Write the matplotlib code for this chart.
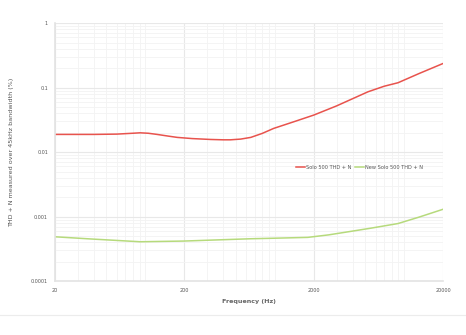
import numpy as np
import matplotlib.pyplot as plt
from matplotlib.lines import Line2D
from matplotlib.ticker import FixedLocator, LogLocator, NullFormatter

# values
freq_red = [20, 40, 60, 80, 91, 105, 123, 150, 176, 230, 318, 400, 454, 544, 652, 800, 980,
            1400, 2000, 3000, 5240, 7000, 8960, 13000, 20000]
thd_red = [0.0188, 0.0188, 0.0190, 0.0196, 0.0199, 0.0196, 0.0188, 0.0177, 0.0169, 0.0162,
           0.0157, 0.0155, 0.0155, 0.0159, 0.0169, 0.0195, 0.0233, 0.0295, 0.0375, 0.052,
           0.086, 0.105, 0.119, 0.165, 0.237]

freq_green = [20, 39, 91, 196, 400, 652, 1000, 1800, 2600, 3670, 5500, 8960, 13000, 20000]
thd_green = [0.000486, 0.000448, 0.000407, 0.000417, 0.000438, 0.000453, 0.000462, 0.000476,
             0.00052, 0.00058, 0.00066, 0.00078, 0.00098, 0.0013]

x_ticks = [20, 200, 2000, 20000]
y_ticks = [0.0001, 0.001, 0.01, 0.1, 1]
y_labels = ["0.0001", "0.001", "0.01", "0.1", "1"]

fig = plt.figure(figsize=(4.66, 3.35), dpi=100)
ax = fig.add_axes([0.118, 0.161, 0.833, 0.770])

ax.plot(freq_red, thd_red, color="#e8534d", lw=1.1, label="Solo 500 THD + N")
ax.plot(freq_green, thd_green, color="#b6da7c", lw=1.1, label="New Solo 500 THD + N")

ax.set_xscale("log")
ax.set_yscale("log")
ax.set_xlim(20, 20000)
ax.set_ylim(0.0001, 1)

ax.xaxis.set_major_locator(FixedLocator(x_ticks))
ax.xaxis.set_minor_locator(LogLocator(base=10, subs=np.arange(1, 10)))
ax.xaxis.set_minor_formatter(NullFormatter())
ax.set_xticklabels([str(t) for t in x_ticks])
ax.yaxis.set_major_locator(FixedLocator(y_ticks))
ax.yaxis.set_minor_locator(LogLocator(base=10, subs=np.arange(2, 10)))
ax.yaxis.set_minor_formatter(NullFormatter())
ax.set_yticklabels(y_labels)

ax.grid(True, which="major", color="#e8e8e8", lw=0.8)
ax.grid(True, which="minor", color="#f3f3f3", lw=0.6)
ax.set_axisbelow(True)
for s in ["top", "right"]:
    ax.spines[s].set_visible(False)
for s in ["left", "bottom"]:
    ax.spines[s].set_color("#e3e3e3")
    ax.spines[s].set_linewidth(1.2)
ax.tick_params(which="both", length=0, labelsize=3.5, labelcolor="#555555", pad=5)

ax.set_xlabel("Frequency (Hz)", fontsize=4.6, color="#666666", fontweight="bold", labelpad=4)
ax.set_ylabel("THD + N measured over 45kHz bandwidth (%)", fontsize=4.6, color="#555555",
              labelpad=12)

ax.legend(loc="center", bbox_to_anchor=(0.785, 0.44), ncol=2, frameon=False,
          fontsize=3.6, handlelength=1.8, columnspacing=0.8, handletextpad=0.2,
          labelcolor="#555555")

fig.add_artist(Line2D([0, 1], [0.06, 0.06], color="#ececec", lw=0.8))

fig.savefig("out.png", dpi=100)
